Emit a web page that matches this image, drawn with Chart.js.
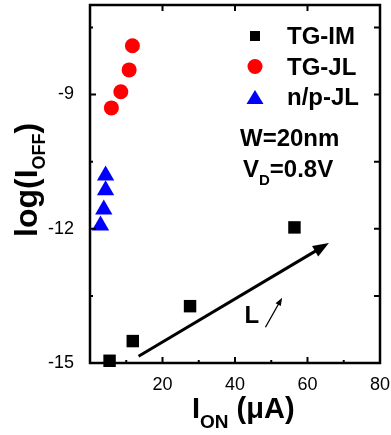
<!DOCTYPE html>
<html>
<head>
<meta charset="utf-8">
<script src="https://cdn.jsdelivr.net/npm/chart.js@4"></script>
<style>
  html, body { margin: 0; padding: 0; background: #fff; }
  #wrap { width: 391px; height: 435px; }
</style>
</head>
<body>
<div id="wrap"><canvas id="myChart" width="391" height="435"></canvas></div>
<script>
// valores: I_ON (uA) y log(I_OFF)
var tgImOn  = [5.4, 11.8, 27.6, 56.4];
var tgImOff = [-14.95, -14.51, -13.73, -11.97];
var tgJlOn  = [5.9, 8.5, 10.8, 11.7];
var tgJlOff = [-9.30, -8.94, -8.45, -7.91];
var npJlOn  = [2.9, 3.8, 4.3, 4.3];
var npJlOff = [-11.93, -11.57, -11.14, -10.81];
var seriesNames = ['TG-IM', 'TG-JL', 'n/p-JL'];
var xTickLabels = [20, 40, 60, 80];
var yTickLabels = [-15, -12, -9];

function pts(xs, ys) {
    return xs.map(function (x, i) { return { x: x, y: ys[i] }; });
}

var FONT = '"Liberation Sans", Arial, sans-serif';

// texto con subíndices: partes [texto, tamaño, desplazamiento]
function drawParts(ctx, x, y, parts) {
    parts.forEach(function (p) {
        ctx.font = 'bold ' + p[1] + 'px ' + FONT;
        ctx.fillText(p[0], x, y + (p[2] || 0));
        x += ctx.measureText(p[0]).width;
    });
}

function arrow(ctx, x1, y1, x2, y2, lw, hl, hw) {
    var a = Math.atan2(y2 - y1, x2 - x1);
    ctx.lineWidth = lw;
    ctx.beginPath();
    ctx.moveTo(x1, y1);
    ctx.lineTo(x2 - Math.cos(a) * hl * 0.8, y2 - Math.sin(a) * hl * 0.8);
    ctx.stroke();
    ctx.beginPath();
    ctx.moveTo(x2, y2);
    ctx.lineTo(x2 - Math.cos(a) * hl - Math.sin(a) * hw, y2 - Math.sin(a) * hl + Math.cos(a) * hw);
    ctx.lineTo(x2 - Math.cos(a) * hl + Math.sin(a) * hw, y2 - Math.sin(a) * hl - Math.cos(a) * hw);
    ctx.closePath();
    ctx.fill();
}

// marco con marcas hacia dentro
var framePlugin = {
    id: 'frame',
    afterDraw: function (chart) {
        var ctx = chart.ctx, a = chart.chartArea;
        var xs = chart.scales.x, ys = chart.scales.y;
        ctx.save();
        ctx.strokeStyle = '#000';
        ctx.lineWidth = 2;
        for (var v = 10; v < 80; v += 10) {
            var px = xs.getPixelForValue(v);
            var big = v % 20 === 0;
            ctx.beginPath();
            ctx.moveTo(px, a.bottom);
            ctx.lineTo(px, a.bottom - (big ? 6 : 3));
            if (big) {
                ctx.moveTo(px, a.top);
                ctx.lineTo(px, a.top + 6);
            }
            ctx.stroke();
        }
        for (var k = 1; k <= 5; k++) {
            var val = -15 + k * 1.5;
            var py = ys.getPixelForValue(val);
            var major = k % 2 === 0;
            ctx.beginPath();
            ctx.moveTo(a.left, py);
            ctx.lineTo(a.left + (major ? 6 : 3), py);
            ctx.moveTo(a.right, py);
            ctx.lineTo(a.right - 6, py);
            ctx.stroke();
        }
        ctx.lineWidth = 2.5;
        ctx.strokeRect(a.left, a.top, a.right - a.left, a.bottom - a.top);
        ctx.restore();
    }
};

// leyenda, anotaciones y títulos de ejes
var notesPlugin = {
    id: 'notes',
    afterDraw: function (chart) {
        var ctx = chart.ctx, a = chart.chartArea;
        var xs = chart.scales.x, ys = chart.scales.y;
        ctx.save();
        ctx.fillStyle = '#000';
        ctx.strokeStyle = '#000';
        ctx.textBaseline = 'alphabetic';

        // leyenda
        var mx = a.left + 165, tx = a.left + 197;
        var rows = [a.top + 31, a.top + 61.5, a.top + 92];
        chart.data.datasets.forEach(function (ds, i) {
            var cy = rows[i];
            ctx.fillStyle = ds.backgroundColor;
            ctx.beginPath();
            if (i === 0) {
                ctx.rect(mx - 5, cy - 5, 10, 10);
            } else if (i === 1) {
                ctx.arc(mx, cy, 7.5, 0, Math.PI * 2);
            } else {
                ctx.moveTo(mx, cy - 7);
                ctx.lineTo(mx + 8.5, cy + 7);
                ctx.lineTo(mx - 8.5, cy + 7);
                ctx.closePath();
            }
            ctx.fill();
            ctx.fillStyle = '#000';
            ctx.font = 'bold 24px ' + FONT;
            ctx.fillText(ds.label, tx, cy + 8);
        });

        drawParts(ctx, a.left + 150, a.top + 141, [['W=20nm', 24]]);
        drawParts(ctx, a.left + 153, a.top + 172, [['V', 24], ['D', 15, 8], ['=0.8V', 24]]);

        // flechas en coordenadas de datos
        arrow(ctx, xs.getPixelForValue(13.4), ys.getPixelForValue(-14.85),
              xs.getPixelForValue(65.9), ys.getPixelForValue(-12.32), 3, 16, 6);
        arrow(ctx, xs.getPixelForValue(48.4), ys.getPixelForValue(-14.2),
              xs.getPixelForValue(53.0), ys.getPixelForValue(-13.54), 1.3, 8, 3);
        ctx.font = 'bold 24px ' + FONT;
        ctx.fillText('L', xs.getPixelForValue(42.6), ys.getPixelForValue(-14.1));

        // título eje x
        drawParts(ctx, 192, 418, [['I', 29], ['ON', 19, 10], [' (\u03bcA)', 29]]);

        // título eje y
        ctx.translate(37, 237);
        ctx.rotate(-Math.PI / 2);
        drawParts(ctx, 0, 0, [['log(I', 32], ['OFF', 18, 8], [')', 32]]);
        ctx.restore();
    }
};

var chart = document.getElementById('myChart').getContext('2d');
var myChart = new Chart(chart, {
    type: 'scatter',
    data: {
        datasets: [
            {
                label: seriesNames[0],
                data: pts(tgImOn, tgImOff),
                pointStyle: 'rect',
                pointRadius: 8.8,
                backgroundColor: '#000000',
                borderWidth: 0,
                clip: false
            },
            {
                label: seriesNames[1],
                data: pts(tgJlOn, tgJlOff),
                pointStyle: 'circle',
                pointRadius: 7.5,
                backgroundColor: '#ff0000',
                borderWidth: 0,
                clip: false
            },
            {
                label: seriesNames[2],
                data: pts(npJlOn, npJlOff),
                pointStyle: 'triangle',
                pointRadius: 10,
                backgroundColor: '#0000ff',
                borderWidth: 0,
                clip: false
            }
        ]
    },
    options: {
        responsive: false,
        animation: false,
        layout: { autoPadding: false, padding: { left: 0, right: 11, top: 5, bottom: 0 } },
        plugins: {
            legend: { display: false },
            tooltip: { enabled: false }
        },
        scales: {
            x: {
                type: 'linear',
                min: 0,
                max: 80,
                grid: { display: false },
                border: { display: false },
                ticks: {
                    stepSize: 10,
                    maxRotation: 0,
                    autoSkip: false,
                    padding: 3,
                    color: '#000',
                    font: { family: FONT, size: 18 },
                    callback: function (v) { return xTickLabels.indexOf(v) >= 0 ? v : ''; }
                },
                afterFit: function (s) {
                    s.height = 72;
                    s.paddingLeft = 0;
                    s.paddingRight = 0;
                }
            },
            y: {
                type: 'linear',
                min: -15,
                max: -7,
                grid: { display: false },
                border: { display: false },
                ticks: {
                    stepSize: 1.5,
                    autoSkip: false,
                    padding: 8,
                    color: '#000',
                    font: { family: FONT, size: 18, lineHeight: 0.5 },
                    callback: function (v) { return yTickLabels.indexOf(v) >= 0 ? v : ''; }
                },
                afterBuildTicks: function (s) {
                    s.ticks = s.ticks.filter(function (t) { return t.value !== -7; });
                },
                afterFit: function (s) {
                    s.width = 90;
                    s.paddingTop = 0;
                    s.paddingBottom = 0;
                }
            }
        }
    },
    plugins: [framePlugin, notesPlugin]
});
</script>
</body>
</html>
